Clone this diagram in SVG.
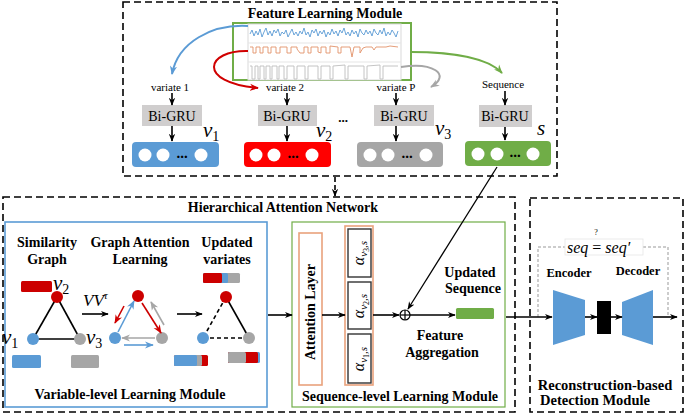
<svg xmlns="http://www.w3.org/2000/svg" width="685" height="415" viewBox="0 0 685 415">
<style>
text{font-family:"Liberation Serif","Times New Roman",serif;fill:#000}
.b{font-weight:bold}
.t14{font-size:14px}
.lab{font-size:11px}
.math{font-style:italic;font-size:21px}
.dash{fill:none;stroke:#000;stroke-width:1.6;stroke-dasharray:7,4}
.gru{fill:#d0cece}
.wc{fill:#fff}
.ln{stroke:#000;stroke-width:1.6;fill:none}
</style>
<defs>
<marker id="ak" viewBox="0 0 10 10" refX="9" refY="5" markerWidth="8" markerHeight="8" markerUnits="userSpaceOnUse" orient="auto"><path d="M0,1 L10,5 L0,9 L3,5 z" fill="#000"/></marker>
<marker id="ab" viewBox="0 0 10 10" refX="9" refY="5" markerWidth="9" markerHeight="9" markerUnits="userSpaceOnUse" orient="auto"><path d="M0,1 L10,5 L0,9 L3,5 z" fill="#5b9bd5"/></marker>
<marker id="ar" viewBox="0 0 10 10" refX="9" refY="5" markerWidth="9" markerHeight="9" markerUnits="userSpaceOnUse" orient="auto"><path d="M0,1 L10,5 L0,9 L3,5 z" fill="#d00000"/></marker>
<marker id="ag" viewBox="0 0 10 10" refX="9" refY="5" markerWidth="9" markerHeight="9" markerUnits="userSpaceOnUse" orient="auto"><path d="M0,1 L10,5 L0,9 L3,5 z" fill="#a6a6a6"/></marker>
<marker id="agr" viewBox="0 0 10 10" refX="9" refY="5" markerWidth="9" markerHeight="9" markerUnits="userSpaceOnUse" orient="auto"><path d="M0,1 L10,5 L0,9 L3,5 z" fill="#70ad47"/></marker>
</defs>

<!-- Feature Learning Module -->
<g id="feature-module">
<rect x="123" y="2" width="434" height="174" class="dash"/>
<text x="325" y="18" class="b t14" text-anchor="middle">Feature Learning Module</text>
</g>

<g id="timeseries">
<rect x="233" y="23" width="178" height="57" fill="#fff" stroke="#70ad47" stroke-width="2"/>
<rect x="248" y="24" width="153" height="56" fill="#fff" stroke="#d9d9d9" stroke-width="1"/>
<line x1="248" y1="43" x2="401" y2="43" stroke="#e5e5e5"/>
<line x1="248" y1="62" x2="401" y2="62" stroke="#e5e5e5"/>
<polyline fill="none" stroke="#5b9bd5" stroke-width="0.9" points="250,34 252,30 254,36 256,31 258,35 260,29 262,37 264,32 266,28 268,35 270,31 272,36 274,30 276,33 278,29 280,36 282,32 284,34 286,30 288,37 290,33 292,29 294,35 296,32 298,36 300,31 302,34 304,28 306,35 308,32 310,37 312,30 314,33 316,29 318,36 320,31 322,34 324,30 326,37 328,32 330,35 332,29 334,34 336,31 338,36 340,30 342,33 344,28 346,35 348,32 350,36 352,30 354,34 356,31 358,37 360,29 362,33 364,35 366,30 368,34 370,31 372,36 374,29 376,33 378,35 380,30 382,34 384,28 386,36 388,32 390,35 392,30 394,33 396,37 398,31"/>
<path fill="none" stroke="#e2926a" stroke-width="0.9" d="M250,47 L253,47 L253,53 L256,53 L256,47 L260,47 L260,53 L263,53 L263,47 L268,47 L268,53 L271,53 L271,47 L276,47 L276,53 L280,53 L280,47 L287,47 L287,53 L291,53 L291,47 L297,47 L297,49 L300,53 L304,53 L304,47 L308,47 L308,53 L311,53 L311,47 L318,47 L318,52 L321,53 L321,47 L326,47 L326,53 L330,53 L330,46 L338,47 L338,53 L341,53 L341,47 L350,47 L352,57 L354,47 L360,47 L360,53 L363,48 L366,47 L372,47 L374,50 L376,47 L386,47 L390,46 L398,47"/>
<path fill="none" stroke="#bdbdbd" stroke-width="0.9" d="M250,66 L252,66 L252,79 L255,79 L255,66 L258,66 L258,79 L260,79 L260,66 L264,66 L264,79 L266,79 L266,66 L270,66 L270,79 L272,79 L272,66 L277,66 L277,79 L279,79 L279,66 L284,66 L284,79 L287,79 L287,66 L294,66 L294,79 L297,79 L297,66 L305,66 L305,79 L308,79 L308,66 L318,66 L318,79 L321,79 L321,66 L330,66 L330,79 L333,79 L333,66 L345,65 L345,79 L348,79 L348,66 L364,66 L364,79 L367,79 L367,66 L380,65 L380,79 L383,79 L383,66 L398,66"/>
</g>

<g id="variate1">
<text x="170" y="91" class="lab" text-anchor="middle">variate 1</text>
<rect x="142" y="105" width="60" height="21" class="gru"/>
<text x="172" y="121" class="t14" text-anchor="middle">Bi-GRU</text>
<rect x="132" y="142" width="87" height="25" rx="4" fill="#5b9bd5"/>
<circle cx="145" cy="155" r="6.5" class="wc"/><circle cx="163" cy="155" r="6.5" class="wc"/><circle cx="201" cy="155" r="6.5" class="wc"/>
<text x="182" y="158" text-anchor="middle" class="b" font-size="15">...</text>
<text x="203" y="137" class="math">v<tspan font-size="14" font-style="normal" dy="4">1</tspan></text>
</g>
<g id="variate2">
<text x="285" y="91" class="lab" text-anchor="middle">variate 2</text>
<rect x="258" y="105" width="59" height="21" class="gru"/>
<text x="287" y="121" class="t14" text-anchor="middle">Bi-GRU</text>
<rect x="244" y="142" width="87" height="25" rx="4" fill="#ff0000"/>
<circle cx="256" cy="155" r="6.5" class="wc"/><circle cx="274" cy="155" r="6.5" class="wc"/><circle cx="312" cy="155" r="6.5" class="wc"/>
<text x="293" y="158" text-anchor="middle" class="b" font-size="15">...</text>
<text x="316" y="137" class="math">v<tspan font-size="14" font-style="normal" dy="4">2</tspan></text>
</g>
<text x="343" y="122" text-anchor="middle" class="b" font-size="13">...</text>
<g id="variateP">
<text x="396" y="91" class="lab" text-anchor="middle">variate P</text>
<rect x="374" y="105" width="60" height="21" class="gru"/>
<text x="404" y="121" class="t14" text-anchor="middle">Bi-GRU</text>
<rect x="357" y="142" width="86" height="25" rx="4" fill="#a6a6a6"/>
<circle cx="370" cy="155" r="6.5" class="wc"/><circle cx="388" cy="155" r="6.5" class="wc"/><circle cx="426" cy="155" r="6.5" class="wc"/>
<text x="407" y="158" text-anchor="middle" class="b" font-size="15">...</text>
<text x="435" y="135" class="math">v<tspan font-size="14" font-style="normal" dy="4">3</tspan></text>
</g>
<g id="sequence">
<text x="503" y="88" class="lab" text-anchor="middle">Sequence</text>
<rect x="479" y="105" width="53" height="22" class="gru"/>
<text x="505" y="121" class="t14" text-anchor="middle">Bi-GRU</text>
<rect x="465" y="141" width="86" height="25" rx="4" fill="#70ad47"/>
<circle cx="478" cy="154" r="6.5" class="wc"/><circle cx="497" cy="154" r="6.5" class="wc"/><circle cx="533" cy="154" r="6.5" class="wc"/>
<text x="515" y="157" text-anchor="middle" class="b" font-size="15">...</text>
<text x="537" y="135" class="math" font-size="24">s</text>
</g>

<!-- Hierarchical Attention Network -->
<g id="han">
<rect x="3" y="197" width="512" height="215" class="dash"/>
<text x="283" y="212" class="b t14" text-anchor="middle">Hierarchical Attention Network</text>
</g>

<g id="variable-level">
<rect x="5" y="222" width="262" height="185" fill="none" stroke="#5b9bd5" stroke-width="1.6"/>
<text x="130" y="399" class="b t14" text-anchor="middle">Variable-level Learning Module</text>
<text x="47" y="247" class="b t14" text-anchor="middle">Similarity</text>
<text x="47" y="264" class="b t14" text-anchor="middle">Graph</text>
<text x="140" y="247" class="b t14" text-anchor="middle">Graph Attention</text>
<text x="140" y="264" class="b t14" text-anchor="middle">Learning</text>
<text x="227" y="247" class="b t14" text-anchor="middle">Updated</text>
<text x="227" y="264" class="b t14" text-anchor="middle">variates</text>
</g>

<g id="similarity-graph">
<line x1="57" y1="297" x2="33" y2="339" class="ln"/>
<line x1="57" y1="297" x2="80" y2="339" class="ln"/>
<line x1="33" y1="339" x2="80" y2="339" class="ln"/>
<rect x="21" y="281" width="31" height="11" rx="1.5" fill="#cc0000"/>
<circle cx="57" cy="297" r="6" fill="#cc0000"/>
<circle cx="33" cy="339" r="6" fill="#5b9bd5"/>
<circle cx="80" cy="339" r="6" fill="#a6a6a6"/>
<rect x="12" y="355" width="29" height="13" rx="1.5" fill="#5b9bd5"/>
<rect x="71" y="355" width="28" height="13" rx="1.5" fill="#a6a6a6"/>
<text x="53" y="290" class="math">v<tspan font-size="14" font-style="normal" dy="4">2</tspan></text>
<text x="2" y="344" class="math">v<tspan font-size="14" font-style="normal" dy="4">1</tspan></text>
<text x="86" y="344" class="math">v<tspan font-size="14" font-style="normal" dy="4">3</tspan></text>
</g>

<g id="vvt">
<text x="83" y="306" font-size="17" font-style="italic">VV<tspan font-size="11" dy="-7">τ</tspan></text>
</g>

<g id="graph-attention">
<circle cx="138" cy="296" r="6" fill="#cc0000"/>
<circle cx="115" cy="338" r="6" fill="#5b9bd5"/>
<circle cx="162" cy="338" r="6" fill="#a6a6a6"/>
<line x1="124" y1="306" x2="115" y2="323" stroke="#cc0000" stroke-width="1.6" marker-end="url(#ar)"/>
<line x1="118" y1="332" x2="134" y2="301" stroke="#5b9bd5" stroke-width="1.6" marker-end="url(#ab)"/>
<line x1="142" y1="303" x2="161" y2="333" stroke="#cc0000" stroke-width="1.6" marker-end="url(#ar)"/>
<line x1="164" y1="325" x2="151" y2="302" stroke="#a6a6a6" stroke-width="1.6" marker-end="url(#ag)"/>
<line x1="155" y1="338" x2="122" y2="338" stroke="#a6a6a6" stroke-width="1.6" marker-end="url(#ag)"/>
<line x1="124" y1="345" x2="153" y2="345" stroke="#5b9bd5" stroke-width="1.6" marker-end="url(#ab)"/>
</g>

<g id="updated-variates">
<line x1="226" y1="297" x2="203" y2="338" class="ln" stroke-dasharray="4,3"/>
<line x1="226" y1="297" x2="249" y2="338" class="ln"/>
<line x1="203" y1="338" x2="249" y2="338" class="ln" stroke-dasharray="4,3"/>
<rect x="203" y="273" width="37" height="10" rx="1.5" fill="#a6a6a6"/>
<rect x="203" y="273" width="25" height="10" rx="1.5" fill="#5b9bd5"/>
<rect x="203" y="273" width="19" height="10" rx="1.5" fill="#cc0000"/>
<circle cx="226" cy="297" r="6" fill="#cc0000"/>
<circle cx="203" cy="338" r="6" fill="#5b9bd5"/>
<circle cx="249" cy="338" r="6" fill="#a6a6a6"/>
<rect x="174" y="355" width="34" height="11" rx="1.5" fill="#cc0000"/>
<rect x="174" y="355" width="28" height="11" rx="1.5" fill="#a6a6a6"/>
<rect x="174" y="355" width="23" height="11" rx="1.5" fill="#5b9bd5"/>
<rect x="228" y="352" width="32" height="11" rx="1.5" fill="#5b9bd5"/>
<rect x="228" y="352" width="30" height="11" rx="1.5" fill="#cc0000"/>
<rect x="228" y="352" width="18" height="11" rx="1.5" fill="#a6a6a6"/>
</g>

<g id="sequence-level">
<rect x="292" y="222" width="213" height="185" fill="none" stroke="#70ad47" stroke-width="1.2"/>
<text x="400" y="401" class="b t14" text-anchor="middle">Sequence-level Learning Module</text>
<text x="470" y="277" class="b t14" text-anchor="middle">Updated</text>
<text x="473" y="293" class="b t14" text-anchor="middle">Sequence</text>
<text x="440" y="340" class="b t14" text-anchor="middle">Feature</text>
<text x="442" y="357" class="b t14" text-anchor="middle">Aggregation</text>
</g>
<g id="attention-layer">
<rect x="299" y="233" width="23" height="152" fill="#fff" stroke="#e9a27c" stroke-width="1.6"/>
<text transform="translate(315,312) rotate(-90)" class="b" font-size="14" text-anchor="middle">Attention Layer</text>
</g>
<g id="alpha">
<rect x="345" y="226" width="28" height="159" fill="#fff" stroke="#e9a27c" stroke-width="1.6"/>
<rect x="348" y="229" width="23" height="48" fill="#fff" stroke="#333" stroke-width="1.4"/>
<rect x="348" y="282" width="23" height="47" fill="#fff" stroke="#333" stroke-width="1.4"/>
<rect x="348" y="334" width="23" height="49" fill="#fff" stroke="#333" stroke-width="1.4"/>
<text transform="translate(364,253) rotate(-90)" font-size="16" font-style="italic" text-anchor="middle">α<tspan font-size="11" dy="3">v</tspan><tspan font-size="8" font-style="normal" dy="2">3</tspan><tspan font-size="11" dy="-2">,s</tspan></text>
<text transform="translate(364,306) rotate(-90)" font-size="16" font-style="italic" text-anchor="middle">α<tspan font-size="11" dy="3">v</tspan><tspan font-size="8" font-style="normal" dy="2">2</tspan><tspan font-size="11" dy="-2">,s</tspan></text>
<text transform="translate(364,359) rotate(-90)" font-size="16" font-style="italic" text-anchor="middle">α<tspan font-size="11" dy="3">v</tspan><tspan font-size="8" font-style="normal" dy="2">1</tspan><tspan font-size="11" dy="-2">,s</tspan></text>
</g>
<g id="aggregation">
<circle cx="405" cy="315" r="5" fill="#fff" stroke="#000" stroke-width="1.2"/>
<line x1="400" y1="315" x2="410" y2="315" stroke="#000" stroke-width="1.2"/>
<line x1="405" y1="310" x2="405" y2="320" stroke="#000" stroke-width="1.2"/>
</g>
<g id="updated-sequence">
<rect x="456" y="308" width="38" height="11" rx="1.5" fill="#70ad47"/>
</g>

<!-- Reconstruction module -->
<g id="reconstruction">
<rect x="530" y="198" width="153" height="214" class="dash"/>
<text x="605" y="390" class="b" font-size="14.5" text-anchor="middle">Reconstruction-based</text>
<text x="540" y="405" class="b" font-size="14.5">Detection Module</text>
<text x="569" y="277" class="b" font-size="12.5" text-anchor="middle">Encoder</text>
<text x="638" y="275" class="b" font-size="12.5" text-anchor="middle">Decoder</text>
</g>
<g id="encoder"><polygon points="553,290 585,300 585,335 553,345" fill="#5b9bd5"/></g>
<g id="latent"><rect x="597" y="301" width="14" height="33" fill="#000"/></g>
<g id="decoder"><polygon points="622,302 653,290 653,345 622,335" fill="#5b9bd5"/></g>
<g id="check">
<polyline points="538,317 538,247 565,247" fill="none" stroke="#999" stroke-width="1" stroke-dasharray="3,2"/>
<polyline points="643,247 668,247 668,317" fill="none" stroke="#999" stroke-width="1" stroke-dasharray="3,2"/>
<rect x="565" y="239" width="78" height="16" fill="#fff" stroke="#e6e6e6" stroke-width="0.8"/>
<text x="567" y="253" font-size="16"><tspan font-style="italic">seq</tspan><tspan dx="4">=</tspan><tspan dx="4" font-style="italic">seq′</tspan></text>
<text x="596" y="235" font-size="8" text-anchor="middle">?</text>
</g>

<!-- connectors -->
<g id="connectors" fill="none">
<path d="M248,26 C212,24 178,42 172,74" stroke="#5b9bd5" stroke-width="2" marker-end="url(#ab)"/>
<path d="M248,51 C206,50 196,82 258,88" stroke="#d00000" stroke-width="2" marker-end="url(#ar)"/>
<path d="M401,67 C432,62 452,74 431,87" stroke="#a6a6a6" stroke-width="2" marker-end="url(#ag)"/>
<path d="M411,52 C452,52 488,58 502,73" stroke="#70ad47" stroke-width="2" marker-end="url(#agr)"/>
<line x1="172" y1="93" x2="172" y2="105" class="ln" marker-end="url(#ak)"/>
<line x1="172" y1="126" x2="172" y2="141" class="ln" marker-end="url(#ak)"/>
<line x1="287" y1="93" x2="287" y2="105" class="ln" marker-end="url(#ak)"/>
<line x1="287" y1="126" x2="287" y2="141" class="ln" marker-end="url(#ak)"/>
<line x1="396" y1="93" x2="396" y2="105" class="ln" marker-end="url(#ak)"/>
<line x1="396" y1="126" x2="396" y2="141" class="ln" marker-end="url(#ak)"/>
<line x1="505" y1="91" x2="505" y2="105" class="ln" marker-end="url(#ak)"/>
<line x1="505" y1="127" x2="505" y2="140" class="ln" marker-end="url(#ak)"/>
<line x1="335" y1="177" x2="335" y2="196" stroke="#000" stroke-width="1.6" stroke-dasharray="5,3" marker-end="url(#ak)"/>
<line x1="82" y1="314" x2="108" y2="314" class="ln" marker-end="url(#ak)"/>
<line x1="177" y1="314" x2="202" y2="314" class="ln" marker-end="url(#ak)"/>
<line x1="268" y1="315" x2="292" y2="315" class="ln" marker-end="url(#ak)"/>
<line x1="322" y1="315" x2="345" y2="315" class="ln" marker-end="url(#ak)"/>
<line x1="373" y1="315" x2="399" y2="315" class="ln" marker-end="url(#ak)"/>
<line x1="410" y1="315" x2="455" y2="315" class="ln" marker-end="url(#ak)"/>
<line x1="497" y1="167" x2="408" y2="309" stroke="#000" stroke-width="1.3" marker-end="url(#ak)"/>
<line x1="506" y1="317" x2="552" y2="317" class="ln" marker-end="url(#ak)"/>
<line x1="585" y1="317" x2="597" y2="317" class="ln" marker-end="url(#ak)"/>
<line x1="611" y1="317" x2="622" y2="317" class="ln" marker-end="url(#ak)"/>
<line x1="653" y1="317" x2="677" y2="317" class="ln" marker-end="url(#ak)"/>
</g>
</svg>
